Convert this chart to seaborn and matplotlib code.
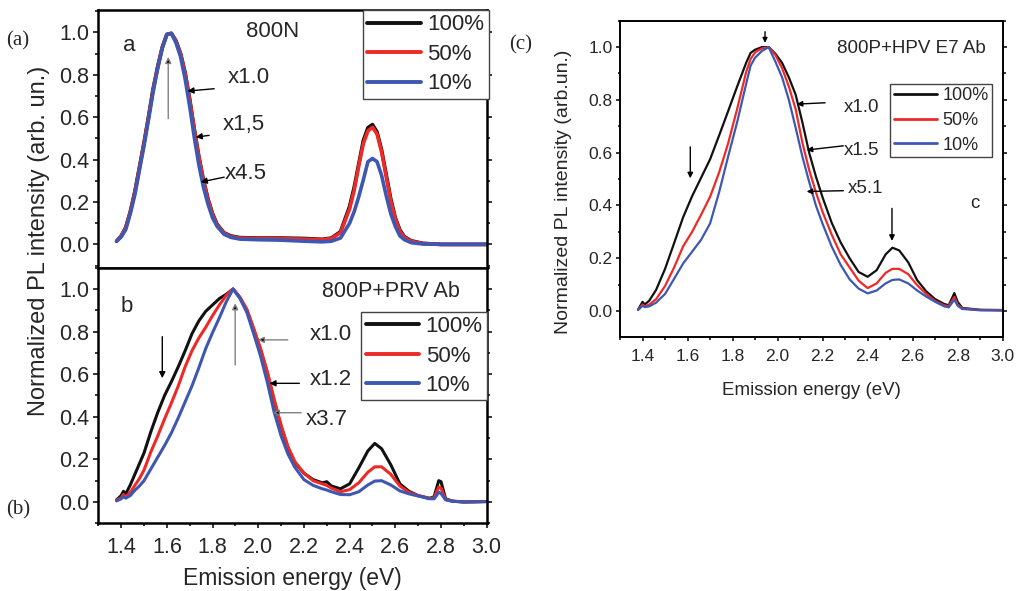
import matplotlib
matplotlib.use("Agg")
import matplotlib.pyplot as plt
from matplotlib.lines import Line2D
from matplotlib.ticker import MultipleLocator
import numpy as np
import pandas as pd
import seaborn as sns

# ---------------- spectra (normalized PL intensity vs emission energy, eV) ----------------
levels = ["100%", "50%", "10%"]

# (a) 800N
energy_a = [1.38, 1.40, 1.42, 1.44, 1.46, 1.48, 1.50, 1.52, 1.54, 1.56,
            1.58, 1.60, 1.62, 1.64, 1.66, 1.68, 1.70, 1.72, 1.74, 1.76,
            1.78, 1.80, 1.82, 1.85, 1.88, 1.92, 2.00, 2.10, 2.20, 2.28,
            2.32, 2.36, 2.40, 2.42, 2.44, 2.46, 2.48, 2.50, 2.52, 2.54,
            2.56, 2.58, 2.60, 2.62, 2.64, 2.67, 2.72, 2.80, 2.90, 3.00]
a_100 = [0.015, 0.04, 0.08, 0.155, 0.25, 0.365, 0.48, 0.605, 0.735, 0.84,
         0.93, 0.99, 0.995, 0.96, 0.90, 0.81, 0.685, 0.545, 0.415, 0.305,
         0.215, 0.145, 0.095, 0.055, 0.04, 0.032, 0.03, 0.03, 0.028, 0.024,
         0.03, 0.06, 0.18, 0.27, 0.38, 0.49, 0.55, 0.565, 0.53, 0.445,
         0.33, 0.215, 0.125, 0.068, 0.036, 0.017, 0.005, 0.0, 0.0, 0.0]
a_50 = [0.015, 0.04, 0.078, 0.152, 0.245, 0.36, 0.475, 0.60, 0.73, 0.835,
        0.928, 0.99, 0.995, 0.958, 0.898, 0.805, 0.68, 0.54, 0.41, 0.30,
        0.21, 0.14, 0.092, 0.053, 0.037, 0.03, 0.028, 0.027, 0.025, 0.022,
        0.028, 0.055, 0.168, 0.255, 0.37, 0.475, 0.535, 0.552, 0.52, 0.435,
        0.32, 0.205, 0.12, 0.062, 0.033, 0.015, 0.004, 0.0, 0.0, 0.0]
a_10 = [0.015, 0.035, 0.07, 0.145, 0.235, 0.35, 0.465, 0.59, 0.72, 0.83,
        0.925, 0.99, 0.995, 0.95, 0.885, 0.78, 0.65, 0.505, 0.375, 0.27,
        0.19, 0.125, 0.085, 0.048, 0.033, 0.025, 0.022, 0.02, 0.015, 0.012,
        0.015, 0.03, 0.10, 0.155, 0.225, 0.305, 0.39, 0.405, 0.39, 0.325,
        0.23, 0.145, 0.085, 0.04, 0.022, 0.008, 0.002, 0.0, 0.0, 0.0]

# (b) 800P+PRV Ab
energy_b = [1.38, 1.40, 1.41, 1.42, 1.44, 1.46, 1.48, 1.50, 1.53, 1.56,
            1.59, 1.62, 1.65, 1.68, 1.71, 1.74, 1.77, 1.80, 1.83, 1.86,
            1.89, 1.92, 1.95, 1.98, 2.01, 2.04, 2.07, 2.10, 2.13, 2.16,
            2.20, 2.24, 2.28, 2.30, 2.32, 2.36, 2.40, 2.44, 2.48, 2.51,
            2.54, 2.58, 2.62, 2.66, 2.70, 2.75, 2.77, 2.79, 2.80, 2.82,
            2.85, 2.90, 3.00]
b_100 = [0.01, 0.03, 0.05, 0.038, 0.08, 0.13, 0.18, 0.23, 0.33, 0.42,
         0.50, 0.565, 0.635, 0.71, 0.79, 0.85, 0.895, 0.925, 0.955, 0.975,
         1.0, 0.96, 0.90, 0.81, 0.715, 0.605, 0.475, 0.355, 0.255, 0.185,
         0.135, 0.105, 0.09, 0.095, 0.075, 0.062, 0.085, 0.16, 0.24, 0.275,
         0.25, 0.175, 0.085, 0.05, 0.03, 0.017, 0.025, 0.10, 0.095, 0.015,
         0.004, 0.0, 0.002]
b_50 = [0.008, 0.02, 0.035, 0.025, 0.045, 0.078, 0.11, 0.15, 0.235, 0.31,
        0.39, 0.465, 0.545, 0.635, 0.71, 0.77, 0.82, 0.875, 0.925, 0.97,
        1.0, 0.96, 0.905, 0.815, 0.72, 0.61, 0.48, 0.36, 0.26, 0.19,
        0.135, 0.10, 0.085, 0.078, 0.065, 0.048, 0.058, 0.09, 0.14, 0.165,
        0.165, 0.13, 0.075, 0.045, 0.03, 0.017, 0.02, 0.07, 0.065, 0.012,
        0.004, 0.0, 0.002]
b_10 = [0.005, 0.015, 0.025, 0.018, 0.03, 0.055, 0.075, 0.10, 0.155, 0.21,
        0.265, 0.325, 0.395, 0.47, 0.545, 0.63, 0.72, 0.795, 0.865, 0.94,
        1.0, 0.955, 0.89, 0.79, 0.685, 0.56, 0.42, 0.31, 0.225, 0.163,
        0.105, 0.078, 0.062, 0.056, 0.048, 0.035, 0.034, 0.048, 0.08, 0.098,
        0.10, 0.08, 0.052, 0.038, 0.028, 0.015, 0.015, 0.045, 0.04, 0.01,
        0.003, 0.0, 0.002]

# (c) 800P+HPV E7 Ab
energy_c = [1.38, 1.40, 1.41, 1.43, 1.46, 1.50, 1.54, 1.58, 1.62, 1.66,
            1.70, 1.74, 1.78, 1.82, 1.86, 1.88, 1.90, 1.93, 1.96, 1.99,
            2.02, 2.05, 2.08, 2.11, 2.14, 2.17, 2.20, 2.24, 2.28, 2.32,
            2.36, 2.40, 2.44, 2.48, 2.51, 2.54, 2.58, 2.62, 2.66, 2.70,
            2.74, 2.76, 2.785, 2.80, 2.82, 2.90, 3.00]
c_100 = [0.006, 0.035, 0.025, 0.04, 0.08, 0.16, 0.257, 0.355, 0.435, 0.505,
         0.575, 0.665, 0.757, 0.85, 0.94, 0.978, 0.99, 1.0, 1.0, 0.975,
         0.94, 0.885, 0.82, 0.715, 0.60, 0.51, 0.43, 0.335, 0.26, 0.20,
         0.148, 0.13, 0.155, 0.215, 0.24, 0.23, 0.185, 0.117, 0.075, 0.045,
         0.027, 0.022, 0.068, 0.035, 0.012, 0.005, 0.004]
c_50 = [0.005, 0.025, 0.018, 0.025, 0.045, 0.095, 0.165, 0.245, 0.30, 0.365,
        0.433, 0.525, 0.635, 0.765, 0.905, 0.955, 0.98, 0.995, 1.0, 0.97,
        0.92, 0.85, 0.765, 0.638, 0.535, 0.45, 0.375, 0.29, 0.215, 0.165,
        0.115, 0.087, 0.105, 0.145, 0.16, 0.16, 0.14, 0.098, 0.065, 0.038,
        0.022, 0.018, 0.053, 0.025, 0.01, 0.004, 0.003]
c_10 = [0.004, 0.02, 0.015, 0.018, 0.032, 0.065, 0.122, 0.18, 0.225, 0.27,
        0.332, 0.45, 0.585, 0.715, 0.86, 0.93, 0.96, 0.985, 1.0, 0.945,
        0.885, 0.80, 0.695, 0.585, 0.49, 0.40, 0.33, 0.245, 0.175, 0.12,
        0.085, 0.067, 0.078, 0.105, 0.118, 0.12, 0.105, 0.078, 0.055, 0.035,
        0.018, 0.014, 0.043, 0.02, 0.008, 0.003, 0.002]

x_ticks = [1.4, 1.6, 1.8, 2.0, 2.2, 2.4, 2.6, 2.8, 3.0]
y_ticks = [0.0, 0.2, 0.4, 0.6, 0.8, 1.0]

# ---------------- style ----------------
sns.set_style("ticks")
plt.rcParams["font.family"] = ["Liberation Sans", "DejaVu Sans"]
palette = {"100%": "#111111", "50%": "#ee2a26", "10%": "#3e58b2"}
SERIF = ["Liberation Serif", "DejaVu Serif"]


def long_frame(energy, series):
    parts = [pd.DataFrame({"energy": energy, "intensity": vals, "excitation": lab})
             for lab, vals in zip(levels, series)]
    return pd.concat(parts, ignore_index=True)


def draw_spectra(ax, energy, series, lw):
    sns.lineplot(data=long_frame(energy, series), x="energy", y="intensity",
                 hue="excitation", hue_order=levels, palette=palette,
                 linewidth=lw, estimator=None, sort=False, legend=False, ax=ax)


def style_axes(ax, ylim, spine_w, tick_fs, show_x=True, xpad=6.5, ypad=3.0,
               major_len=3.6, minor_len=2.2):
    ax.set_xlim(1.3, 3.0)
    ax.set_ylim(*ylim)
    ax.set_xticks(x_ticks)
    ax.set_yticks(y_ticks)
    ax.xaxis.set_minor_locator(MultipleLocator(0.1))
    ax.yaxis.set_minor_locator(MultipleLocator(0.1))
    ax.set_xticklabels([f"{t:.1f}" for t in x_ticks])
    ax.set_yticklabels([f"{t:.1f}" for t in y_ticks])
    for sp in ax.spines.values():
        sp.set_visible(True)
        sp.set_linewidth(spine_w)
        sp.set_color("black")
    ax.tick_params(which="both", direction="out", width=1.1, color="black",
                   left=True, right=True, top=False, bottom=show_x,
                   labelbottom=show_x, labelsize=tick_fs)
    ax.tick_params(which="major", length=major_len)
    ax.tick_params(which="minor", length=minor_len)
    ax.tick_params(axis="x", pad=xpad)
    ax.tick_params(axis="y", pad=ypad)
    ax.set_xlabel("")
    ax.set_ylabel("")


def add_legend(ax, anchor, fs, lw, spacing):
    handles = [Line2D([], [], color=palette[k], lw=lw) for k in levels]
    leg = ax.legend(handles, levels, loc="upper left", bbox_to_anchor=anchor,
                    fontsize=fs, frameon=True, fancybox=False, framealpha=1,
                    edgecolor="#444444", borderpad=0.2, borderaxespad=0,
                    handlelength=2.4, handletextpad=0.3, labelspacing=spacing)
    leg.get_frame().set_linewidth(1.0)


def arrow(ax, tail, head, shaft="black", ms=9, lw=1.0):
    ax.annotate("", xy=head, xytext=tail,
                arrowprops=dict(arrowstyle="-|>", edgecolor=shaft, facecolor="black",
                                lw=lw, mutation_scale=ms, shrinkA=0, shrinkB=0))


fig = plt.figure(figsize=(10.21, 5.91), dpi=100)
ax_a = fig.add_axes([0.0963, 0.5470, 0.3804, 0.4360])
ax_b = fig.add_axes([0.0963, 0.1146, 0.3804, 0.4325])
ax_c = fig.add_axes([0.6073, 0.4303, 0.3748, 0.5347])

# ---------------- panel a ----------------
draw_spectra(ax_a, energy_a, [a_100, a_50, a_10], 2.6)
style_axes(ax_a, (-0.11, 1.105), 1.8, 15.5, show_x=False)
add_legend(ax_a, (0.681, 1.0), 16, 2.8, 0.38)
ax_a.text(1.41, 0.911, "a", fontsize=16, ha="left", va="baseline")
ax_a.text(2.063, 0.978, "800N", fontsize=16, ha="center", va="baseline")
ax_a.text(1.866, 0.761, "x1.0", fontsize=16, ha="left", va="baseline")
ax_a.text(1.844, 0.538, "x1,5", fontsize=16, ha="left", va="baseline")
ax_a.text(1.854, 0.307, "x4.5", fontsize=16, ha="left", va="baseline")
arrow(ax_a, (1.807, 0.734), (1.690, 0.723))
arrow(ax_a, (1.785, 0.514), (1.726, 0.506))
arrow(ax_a, (1.851, 0.317), (1.748, 0.294))
arrow(ax_a, (1.606, 0.593), (1.606, 0.884), shaft="#808080")

# ---------------- panel b ----------------
draw_spectra(ax_b, energy_b, [b_100, b_50, b_10], 2.2)
style_axes(ax_b, (-0.1, 1.1), 1.8, 15.5, show_x=True)
add_legend(ax_b, (0.677, 0.828), 16, 2.8, 0.38)
ax_b.text(1.397, 0.893, "b", fontsize=16, ha="left", va="baseline")
ax_b.text(2.580, 0.961, "800P+PRV Ab", fontsize=15.5, ha="center", va="baseline")
ax_b.text(2.224, 0.761, "x1.0", fontsize=16, ha="left", va="baseline")
ax_b.text(2.224, 0.549, "x1.2", fontsize=16, ha="left", va="baseline")
ax_b.text(2.210, 0.361, "x3.7", fontsize=16, ha="left", va="baseline")
arrow(ax_b, (2.129, 0.761), (1.998, 0.761), shaft="#808080")
arrow(ax_b, (2.180, 0.557), (2.049, 0.557))
arrow(ax_b, (2.188, 0.419), (2.064, 0.419), shaft="#808080")
arrow(ax_b, (1.580, 0.776), (1.580, 0.581))
arrow(ax_b, (1.899, 0.643), (1.899, 0.933), shaft="#808080")
ax_b.set_xlabel("Emission energy (eV)", fontsize=16.5)
ax_b.xaxis.set_label_coords(0.5, -0.2414)
ax_b.xaxis.label.set_va("baseline")

fig.text(45 / 1021, 0.592, "Normalized PL intensity (arb. un.)", fontsize=17,
         rotation=90, rotation_mode="anchor", ha="center", va="baseline")

# ---------------- panel c ----------------
draw_spectra(ax_c, energy_c, [c_100, c_50, c_10], 1.6)
style_axes(ax_c, (-0.097, 1.1), 1.4, 12.5, show_x=True, xpad=6.0, ypad=2.5,
           major_len=3.0, minor_len=1.8)
add_legend(ax_c, (0.7055, 0.80), 13, 2.0, 0.42)
ax_c.text(2.594, 0.976, "800P+HPV E7 Ab", fontsize=13.5, ha="center", va="baseline")
ax_c.text(2.857, 0.389, "c", fontsize=13.5, ha="left", va="baseline")
ax_c.text(2.296, 0.755, "x1.0", fontsize=13.5, ha="left", va="baseline")
ax_c.text(2.296, 0.591, "x1.5", fontsize=13.5, ha="left", va="baseline")
ax_c.text(2.310, 0.446, "x5.1", fontsize=13.5, ha="left", va="baseline")
arrow(ax_c, (2.211, 0.789), (2.085, 0.784), ms=8)
arrow(ax_c, (2.292, 0.626), (2.129, 0.610), ms=8)
arrow(ax_c, (2.292, 0.456), (2.129, 0.453), ms=8)
arrow(ax_c, (1.612, 0.622), (1.612, 0.503), ms=8)
arrow(ax_c, (2.508, 0.389), (2.508, 0.266), ms=8)
arrow(ax_c, (1.944, 1.058), (1.944, 1.016), ms=7)
ax_c.set_xlabel("Emission energy (eV)", fontsize=13.5)
ax_c.xaxis.set_label_coords(0.501, -0.1845)
ax_c.xaxis.label.set_va("baseline")
ax_c.set_ylabel("Normalized PL intensity (arb.un.)", fontsize=14)
ax_c.yaxis.set_label_coords(-0.1359, 0.4595)
ax_c.yaxis.label.set_va("baseline")

# panel tags
fig.text(18 / 1021, 1 - 40.7 / 591, "(a)", fontsize=15, family=SERIF, ha="center", va="center")
fig.text(18 / 1021, 1 - 510 / 591, "(b)", fontsize=15, family=SERIF, ha="center", va="center")
fig.text(520.7 / 1021, 1 - 45 / 591, "(c)", fontsize=15, family=SERIF, ha="center", va="center")

fig.savefig("out.png", dpi=100)
